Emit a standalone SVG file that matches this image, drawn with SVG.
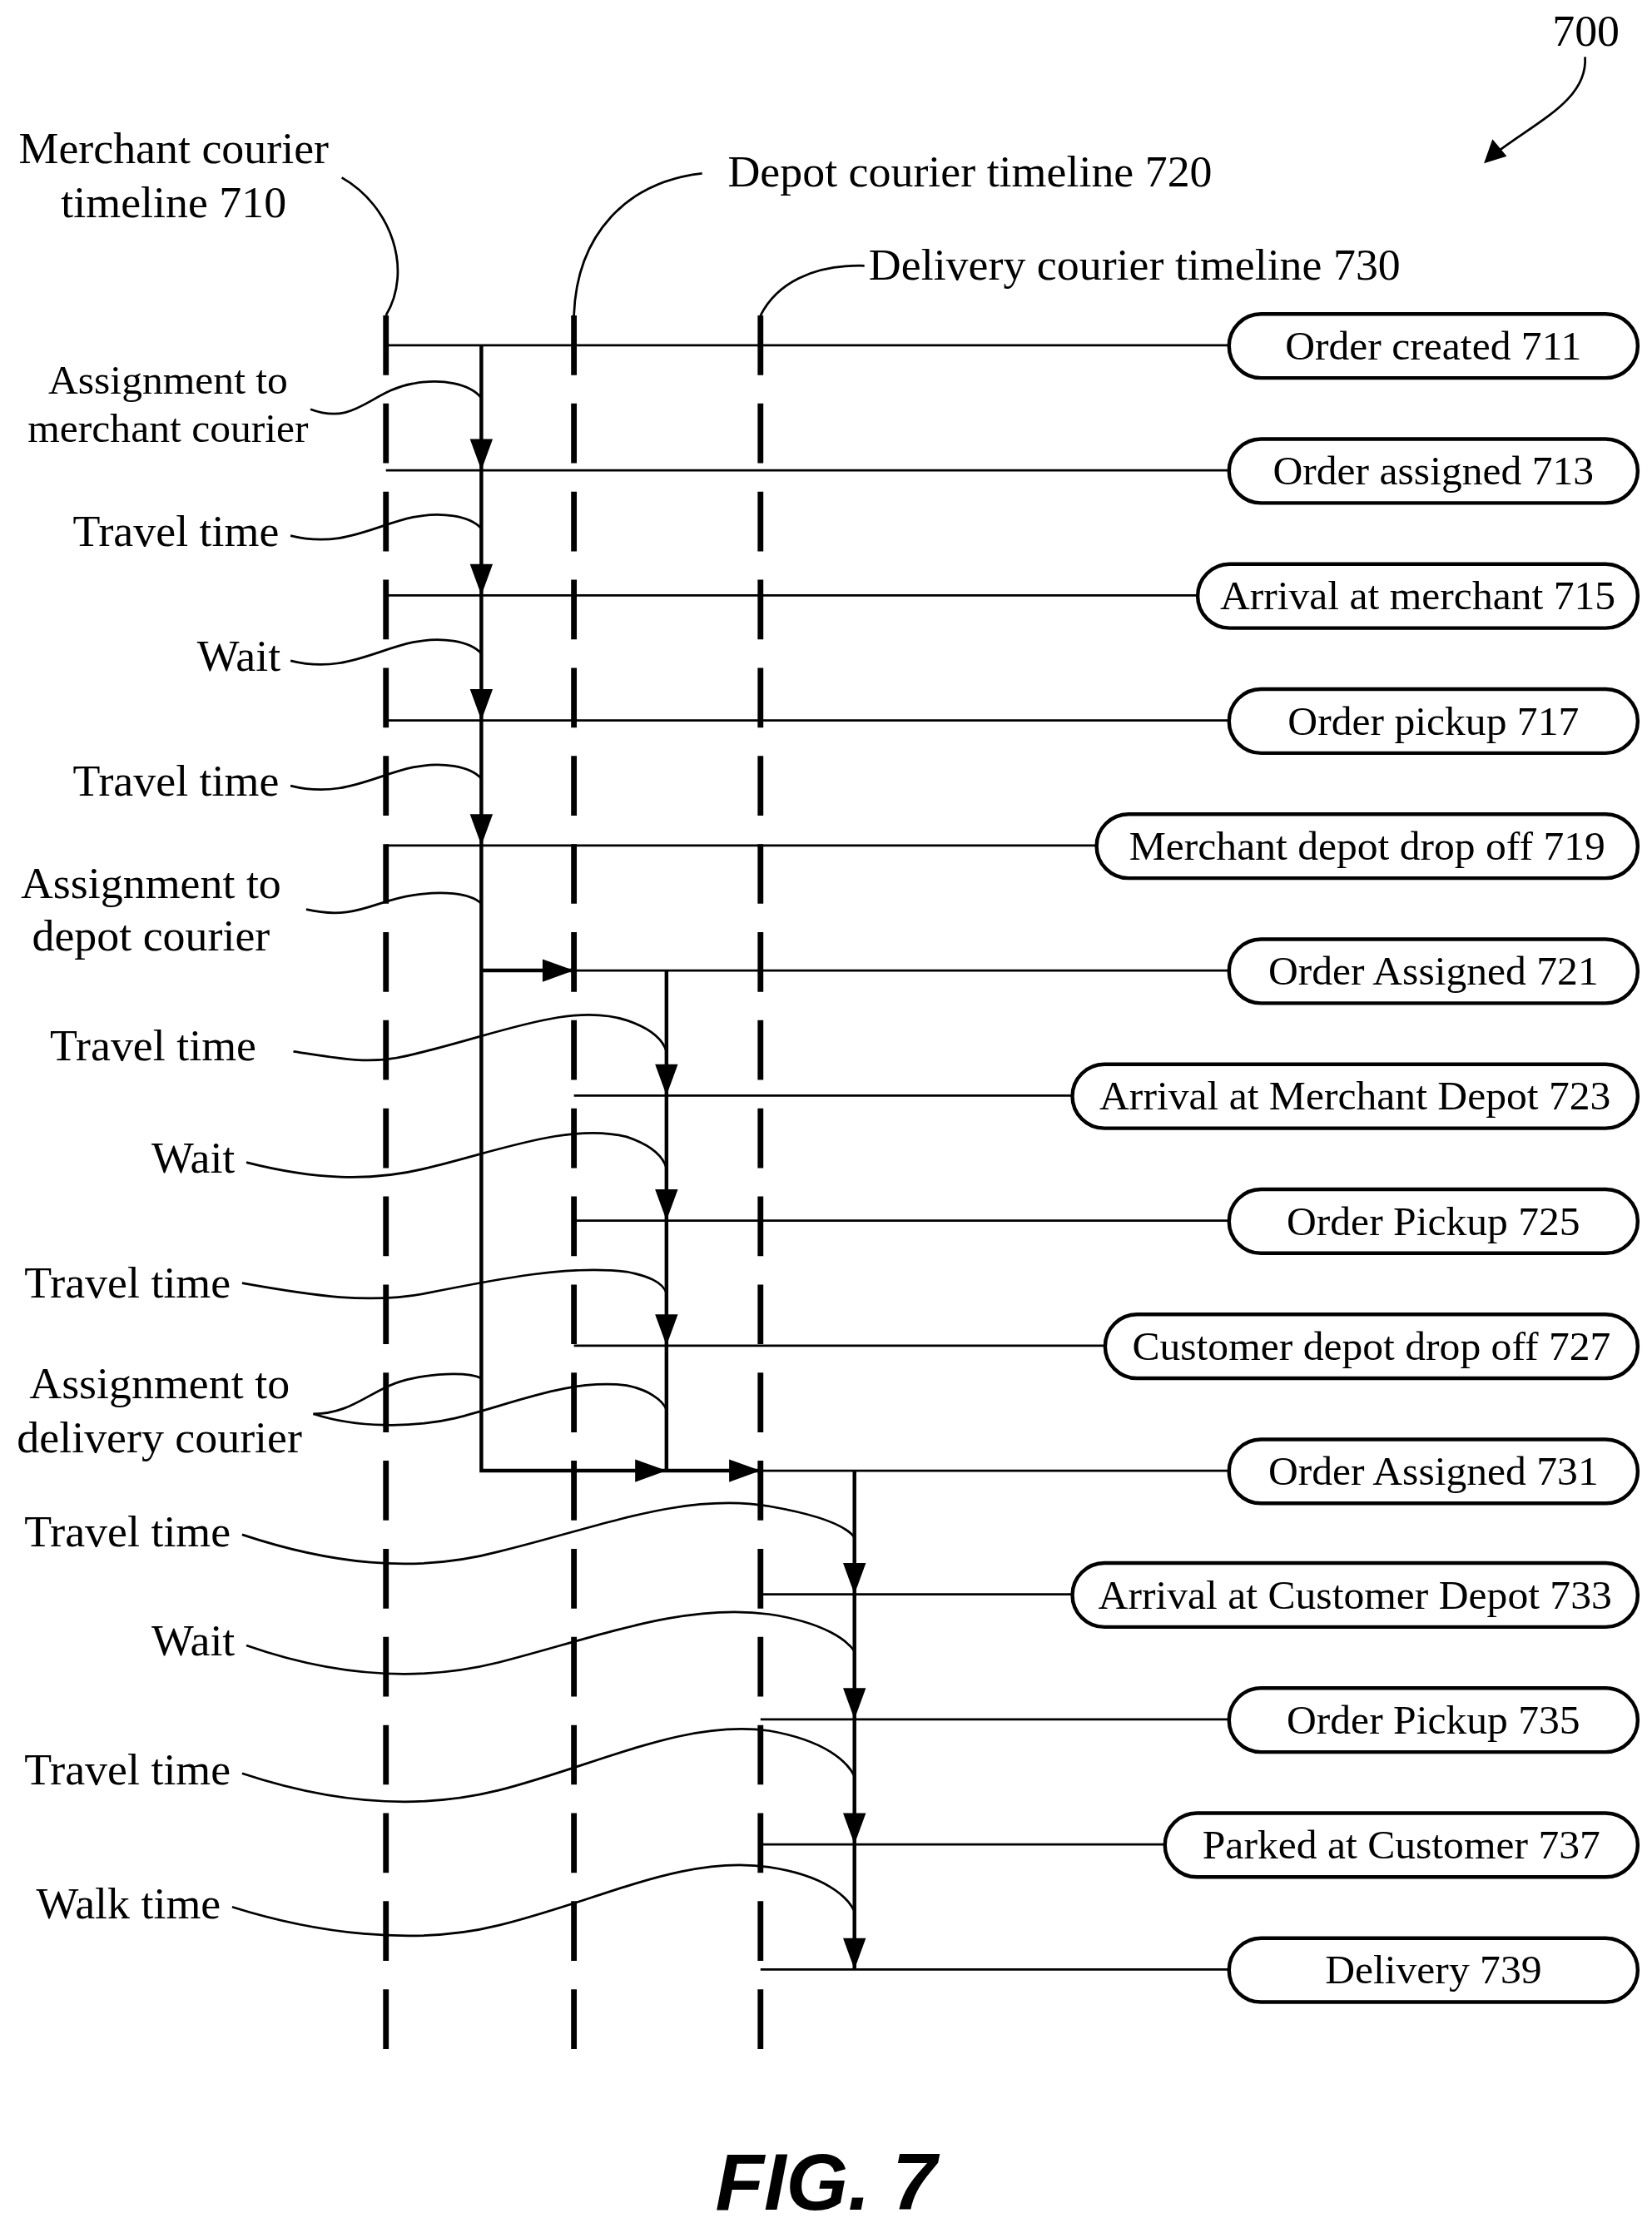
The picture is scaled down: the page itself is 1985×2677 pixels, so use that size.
<svg xmlns="http://www.w3.org/2000/svg" width="1985" height="2677" viewBox="0 0 1985 2677">
<style>
text{font-family:"Liberation Serif","Times New Roman",serif;font-size:31.5px;fill:#000}
.s{font-size:29px}
.b{font-size:29px}
.m{text-anchor:middle}
.e{text-anchor:end}
.tl{stroke:#000;stroke-width:4;stroke-dasharray:42 20;fill:none}
.ln{stroke:#000;stroke-width:1.6;fill:none}
.tk{stroke:#000;stroke-width:2.6;fill:none}
.bx{fill:#fff;stroke:#000;stroke-width:2.6}
.lead{stroke:#000;stroke-width:1.6;fill:none}
</style>
<defs>
<path id="ad" d="M-8,-22 L8,-22 L0,0 Z" fill="#000"/>
</defs>
<rect width="1985" height="2677" fill="#fff"/>
<g transform="scale(1.7112,1.7073)">
<g id="timelines">
<line class="tl" x1="271" y1="222" x2="271" y2="1462"/>
<line class="tl" x1="403" y1="222" x2="403" y2="1462"/>
<line class="tl" x1="534" y1="222" x2="534" y2="1462"/>
</g>
<g id="labels-top">
<text class="m" x="122" y="115">Merchant courier</text>
<text class="m" x="122" y="153">timeline 710</text>
<path class="lead" d="M240,125 C275,145 290,190 271,222"/>
<text x="511" y="131">Depot courier timeline 720</text>
<path class="lead" d="M493,122 C440,128 405,165 403,222"/>
<text x="610" y="197">Delivery courier timeline 730</text>
<path class="lead" d="M607,187 C570,186 545,200 534,222"/>
<text x="1090" y="32">700</text>
<path class="lead" d="M1113,40 C1115,70 1080,85 1050,108"/>
<path d="M1042,115 L1048,98 L1058,110 Z" fill="#000"/>
</g>
<g id="connectors">
<line class="ln" x1="271" y1="243" x2="863" y2="243"/>
<line class="ln" x1="271" y1="331" x2="863" y2="331"/>
<line class="ln" x1="271" y1="419" x2="841" y2="419"/>
<line class="ln" x1="271" y1="507" x2="863" y2="507"/>
<line class="ln" x1="271" y1="595" x2="770" y2="595"/>
<line class="ln" x1="403" y1="683" x2="863" y2="683"/>
<line class="ln" x1="403" y1="771" x2="753" y2="771"/>
<line class="ln" x1="403" y1="859" x2="863" y2="859"/>
<line class="ln" x1="403" y1="947" x2="776" y2="947"/>
<line class="ln" x1="534" y1="1035" x2="863" y2="1035"/>
<line class="ln" x1="534" y1="1122" x2="753" y2="1122"/>
<line class="ln" x1="534" y1="1210" x2="863" y2="1210"/>
<line class="ln" x1="534" y1="1298" x2="818" y2="1298"/>
<line class="ln" x1="534" y1="1386" x2="863" y2="1386"/>
<path class="tk" d="M338,243 V1035 H534"/>
<line class="tk" x1="338" y1="683" x2="403" y2="683"/>
<line class="tk" x1="468" y1="683" x2="468" y2="1035"/>
<line class="tk" x1="600" y1="1035" x2="600" y2="1386"/>
<use href="#ad" x="338" y="331"/>
<use href="#ad" x="338" y="419"/>
<use href="#ad" x="338" y="507"/>
<use href="#ad" x="338" y="595"/>
<use href="#ad" x="468" y="771"/>
<use href="#ad" x="468" y="859"/>
<use href="#ad" x="468" y="947"/>
<use href="#ad" x="600" y="1122"/>
<use href="#ad" x="600" y="1210"/>
<use href="#ad" x="600" y="1298"/>
<use href="#ad" x="600" y="1386"/>
<use href="#ad" transform="translate(403,683) rotate(-90)"/>
<use href="#ad" transform="translate(468,1035) rotate(-90)"/>
<use href="#ad" transform="translate(534,1035) rotate(-90)"/>
</g>
<g id="leaders">
<path class="lead" d="M218,288 C250,300 260,275 290,270 C310,266 330,270 338,280"/>
<text class="s m" x="118" y="277">Assignment to</text>
<text class="s m" x="118" y="311">merchant courier</text>
<text class="e" x="196" y="384">Travel time</text>
<path class="lead" d="M204,377 C240,386 262,370 290,364 C310,360 330,363 338,372"/>
<text class="e" x="197" y="472">Wait</text>
<path class="lead" d="M204,465 C240,474 262,458 290,452 C310,448 330,451 338,460"/>
<text class="e" x="196" y="560">Travel time</text>
<path class="lead" d="M204,553 C240,562 262,546 290,540 C310,536 330,539 338,548"/>
<text class="m" x="106" y="632">Assignment to</text>
<text class="m" x="106" y="669">depot courier</text>
<path class="lead" d="M215,640 C250,648 262,634 290,630 C310,627 330,628 338,636"/>
<text class="e" x="180" y="746">Travel time</text>
<path class="lead" d="M206,740 C240,745 260,750 290,742 C350,728 400,705 440,718 C455,723 465,730 468,740"/>
<text class="e" x="165" y="825">Wait</text>
<path class="lead" d="M173,818 C220,830 260,832 300,822 C350,810 400,790 440,800 C455,805 465,812 468,822"/>
<text class="e" x="162" y="913">Travel time</text>
<path class="lead" d="M170,903 C220,912 260,918 300,910 C350,900 400,890 440,895 C455,898 465,902 468,910"/>
<text class="m" x="112" y="984">Assignment to</text>
<text class="m" x="112" y="1022">delivery courier</text>
<path class="lead" d="M220,995 C250,995 262,975 290,970 C310,966 330,966 338,970"/>
<path class="lead" d="M220,995 C250,1005 290,1005 320,998 C360,988 400,970 440,975 C455,978 465,985 468,992"/>
<text class="e" x="162" y="1088">Travel time</text>
<path class="lead" d="M170,1080 C230,1100 290,1108 350,1092 C420,1075 480,1050 540,1060 C580,1067 595,1075 600,1082"/>
<text class="e" x="165" y="1165">Wait</text>
<path class="lead" d="M173,1158 C230,1178 290,1185 350,1170 C420,1152 480,1128 540,1136 C580,1142 595,1155 600,1162"/>
<text class="e" x="162" y="1256">Travel time</text>
<path class="lead" d="M170,1248 C230,1268 290,1275 350,1260 C420,1242 480,1210 540,1218 C580,1225 595,1240 600,1250"/>
<text class="e" x="155" y="1350">Walk time</text>
<path class="lead" d="M163,1342 C220,1360 290,1370 350,1355 C420,1338 480,1305 540,1314 C580,1320 595,1335 600,1345"/>
</g>
<g id="n711"><rect class="bx" x="863" y="221" width="287" height="45" rx="22.5"/><text class="b m" x="1006.5" y="253">Order created 711</text></g>
<g id="n713"><rect class="bx" x="863" y="309" width="287" height="45" rx="22.5"/><text class="b m" x="1006.5" y="341">Order assigned 713</text></g>
<g id="n715"><rect class="bx" x="841" y="397" width="309" height="45" rx="22.5"/><text class="b m" x="995.5" y="429">Arrival at merchant 715</text></g>
<g id="n717"><rect class="bx" x="863" y="485" width="287" height="45" rx="22.5"/><text class="b m" x="1006.5" y="517">Order pickup 717</text></g>
<g id="n719"><rect class="bx" x="770" y="573" width="380" height="45" rx="22.5"/><text class="b m" x="960" y="605">Merchant depot drop off 719</text></g>
<g id="n721"><rect class="bx" x="863" y="661" width="287" height="45" rx="22.5"/><text class="b m" x="1006.5" y="693">Order Assigned 721</text></g>
<g id="n723"><rect class="bx" x="753" y="749" width="397" height="45" rx="22.5"/><text class="b m" x="951.5" y="781">Arrival at Merchant Depot 723</text></g>
<g id="n725"><rect class="bx" x="863" y="837" width="287" height="45" rx="22.5"/><text class="b m" x="1006.5" y="869">Order Pickup 725</text></g>
<g id="n727"><rect class="bx" x="776" y="925" width="374" height="45" rx="22.5"/><text class="b m" x="963" y="957">Customer depot drop off 727</text></g>
<g id="n731"><rect class="bx" x="863" y="1013" width="287" height="45" rx="22.5"/><text class="b m" x="1006.5" y="1045">Order Assigned 731</text></g>
<g id="n733"><rect class="bx" x="753" y="1100" width="397" height="45" rx="22.5"/><text class="b m" x="951.5" y="1132">Arrival at Customer Depot 733</text></g>
<g id="n735"><rect class="bx" x="863" y="1188" width="287" height="45" rx="22.5"/><text class="b m" x="1006.5" y="1220">Order Pickup 735</text></g>
<g id="n737"><rect class="bx" x="818" y="1276" width="332" height="45" rx="22.5"/><text class="b m" x="984" y="1308">Parked at Customer 737</text></g>
<g id="n739"><rect class="bx" x="863" y="1364" width="287" height="45" rx="22.5"/><text class="b m" x="1006.5" y="1396">Delivery 739</text></g>
<text class="m" x="580" y="1555" style="font-family:'Liberation Sans',Arial,sans-serif;font-weight:bold;font-style:italic;font-size:56px">FIG. 7</text>
</g>
</svg>
